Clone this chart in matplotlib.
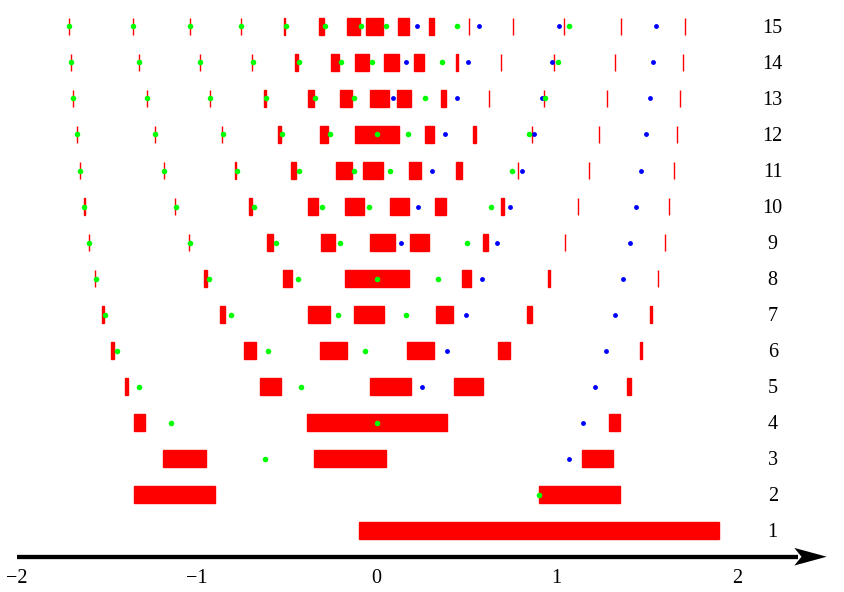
import matplotlib.pyplot as plt
from matplotlib.patches import Polygon

plt.rcParams['font.family'] = ['Liberation Serif', 'DejaVu Serif']

# red intervals for each row (row 1 .. 15), as (left, right)
red_intervals = [
    [(-0.10, 1.90)],
    [(-1.35, -0.90), (0.90, 1.35)],
    [(-1.19, -0.95), (-0.35, 0.05), (1.14, 1.31)],
    [(-1.35, -1.29), (-0.39, 0.39), (1.29, 1.35)],
    [(-1.40, -1.38), (-0.65, -0.53), (-0.04, 0.19), (0.43, 0.59), (1.39, 1.41)],
    [(-1.474, -1.461), (-0.736, -0.669), (-0.313, -0.165), (0.170, 0.317),
     (0.672, 0.739), (1.465, 1.476)],
    [(-1.524, -1.516), (-0.869, -0.843), (-0.383, -0.259), (-0.124, 0.042),
     (0.331, 0.424), (0.833, 0.861), (1.520, 1.528)],
    [(-1.563, -1.563), (-0.961, -0.944), (-0.522, -0.469), (-0.176, 0.178),
     (0.472, 0.526), (0.953, 0.965), (1.565, 1.565)],
    [(-1.598, -1.598), (-1.044, -1.044), (-0.608, -0.578), (-0.309, -0.232),
     (-0.035, 0.100), (0.185, 0.289), (0.592, 0.620), (1.046, 1.046), (1.600, 1.600)],
    [(-1.626, -1.622), (-1.119, -1.119), (-0.708, -0.693), (-0.380, -0.324),
     (-0.174, -0.072), (0.076, 0.178), (0.326, 0.383), (0.692, 0.707),
     (1.118, 1.118), (1.626, 1.626)],
    [(-1.648, -1.648), (-1.180, -1.180), (-0.786, -0.780), (-0.476, -0.447),
     (-0.228, -0.139), (-0.078, 0.037), (0.179, 0.246), (0.442, 0.472),
     (0.785, 0.785), (1.181, 1.181), (1.650, 1.650)],
    [(-1.667, -1.667), (-1.233, -1.233), (-0.861, -0.861), (-0.550, -0.533),
     (-0.315, -0.269), (-0.119, 0.122), (0.270, 0.318), (0.537, 0.553),
     (0.863, 0.863), (1.235, 1.235), (1.668, 1.668)],
    [(-1.685, -1.685), (-1.278, -1.278), (-0.924, -0.924), (-0.628, -0.615),
     (-0.380, -0.350), (-0.204, -0.139), (-0.035, 0.067), (0.113, 0.192),
     (0.357, 0.385), (0.624, 0.624), (0.928, 0.928), (1.279, 1.279), (1.683, 1.683)],
    [(-1.700, -1.700), (-1.321, -1.321), (-0.983, -0.983), (-0.691, -0.691),
     (-0.454, -0.437), (-0.256, -0.208), (-0.121, -0.041), (0.042, 0.124),
     (0.209, 0.263), (0.441, 0.452), (0.692, 0.692), (0.985, 0.985),
     (1.322, 1.322), (1.700, 1.700)],
    [(-1.711, -1.711), (-1.354, -1.354), (-1.036, -1.036), (-0.756, -0.756),
     (-0.514, -0.508), (-0.321, -0.294), (-0.163, -0.093), (-0.058, 0.037),
     (0.117, 0.179), (0.292, 0.320), (0.514, 0.514), (0.757, 0.757),
     (1.039, 1.039), (1.357, 1.357), (1.713, 1.713)],
]

green_points = [
    [],
    [0.90],
    [-0.62],
    [-1.145, 0.0],
    [-1.32, -0.42],
    [-1.443, -0.602, -0.065],
    [-1.511, -0.811, -0.217, 0.161],
    [-1.559, -0.933, -0.436, 0.0, 0.341],
    [-1.596, -1.037, -0.558, -0.202, 0.502],
    [-1.624, -1.115, -0.682, -0.304, -0.043, 0.635],
    [-1.648, -1.180, -0.774, -0.433, -0.126, 0.076, 0.750],
    [-1.667, -1.233, -0.856, -0.526, -0.258, 0.0, 0.176, 0.848],
    [-1.685, -1.278, -0.924, -0.615, -0.341, -0.126, 0.270, 0.933],
    [-1.700, -1.321, -0.983, -0.687, -0.430, -0.197, -0.028, 0.361, 1.007],
    [-1.711, -1.354, -1.036, -0.756, -0.504, -0.287, -0.087, 0.052, 0.446, 1.070],
]

blue_points = [
    [],
    [],
    [1.067],
    [1.146],
    [0.250, 1.215],
    [0.389, 1.274],
    [0.494, 1.326],
    [0.585, 1.370],
    [0.135, 0.668, 1.409],
    [0.229, 0.742, 1.442],
    [0.307, 0.807, 1.468],
    [0.379, 0.872, 1.496],
    [0.091, 0.444, 0.920, 1.517],
    [0.161, 0.507, 0.972, 1.533],
    [0.222, 0.567, 1.015, 1.553],
]

x_ticks = [-2, -1, 0, 1, 2]
x_tick_labels = ['\u22122', '\u22121', '0', '1', '2']

fig = plt.figure(figsize=(8.44, 5.92), dpi=100)
ax = fig.add_axes([0, 0, 1, 1])
ax.set_xlim(-2.093, 2.596)
ax.set_ylim(-0.708, 15.736)
ax.axis('off')

for i, intervals in enumerate(red_intervals):
    row = i + 1
    for lo, hi in intervals:
        ax.barh(row, hi - lo, left=lo, height=0.47, color='#ff0000',
                edgecolor='#ff0000', linewidth=1.0)

for i, pts in enumerate(blue_points):
    if pts:
        ax.plot(pts, [i + 1] * len(pts), 'o', color='#0000ff', ms=3.5, mec='none')

for i, pts in enumerate(green_points):
    if pts:
        ax.plot(pts, [i + 1] * len(pts), 'o', color='#00ff00', ms=4.0, mec='none')

# row numbers (baseline placed so digits are centred on the row)
for i in range(len(red_intervals)):
    ax.text(2.2, i + 1 - 0.185, str(i + 1), ha='center', va='baseline', fontsize=14.5)

# horizontal axis with arrow
axis_y = 0.272
ax.plot([-2.0, 2.34], [axis_y, axis_y], color='black', lw=3.1, solid_capstyle='butt')
head = Polygon([(2.32, axis_y + 0.245), (2.50, axis_y), (2.32, axis_y - 0.245),
                (2.36, axis_y)], closed=True, color='black', lw=0)
ax.add_patch(head)

for t, lab in zip(x_ticks, x_tick_labels):
    ax.text(t, -0.47, lab, ha='center', va='baseline', fontsize=14.5)

fig.savefig('out.png', dpi=100)
